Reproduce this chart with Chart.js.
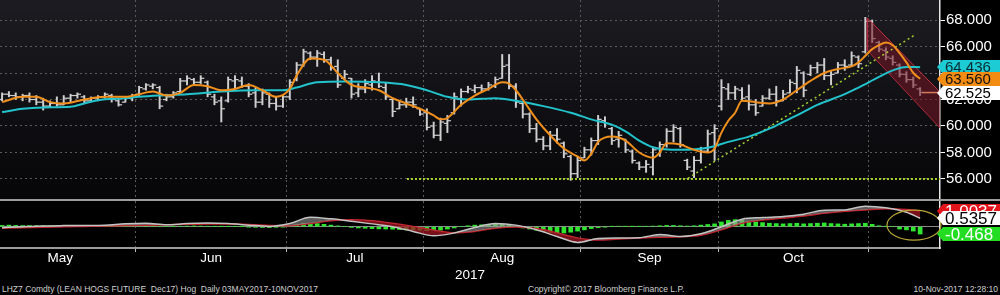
<!DOCTYPE html>
<html>
<head>
<meta charset="utf-8">
<script src="https://cdn.jsdelivr.net/npm/chart.js@4.4.0/dist/chart.umd.min.js"></script>
<style>
  html, body { margin:0; padding:0; background:#000; }
  body { width:1000px; height:295px; position:relative; overflow:hidden; font-family:'Liberation Sans', Arial, sans-serif; }
  #top { position:absolute; left:0; top:0; }
  #sep { position:absolute; left:0; top:199px; width:1000px; height:2px; background:#9c9c9c; }
  #bot { position:absolute; left:0; top:201px; }
  .foot { position:absolute; top:284px; font-size:8.5px; line-height:10px; color:#cfcfcf; white-space:pre; }
</style>
</head>
<body>
<canvas id="top" width="1000" height="199"></canvas>
<div id="sep"></div>
<canvas id="bot" width="1000" height="82"></canvas>
<div class="foot" style="left:2px">LHZ7 Comdty (LEAN HOGS FUTURE  Dec17) Hog  Daily 03MAY2017-10NOV2017</div>
<div class="foot" style="left:528px">Copyright© 2017 Bloomberg Finance L.P.</div>
<div class="foot" style="right:2px">10-Nov-2017 12:28:10</div>
<script>
// month grid (between trading days) and month label positions, in trading-day index
var monthNames = ['May', 'Jun', 'Jul', 'Aug', 'Sep', 'Oct'];
var monthStarts = [19.5, 41.5, 61.5, 84.5, 104.5, 126.5];
var monthMids = [8.5, 30.5, 51.5, 73, 94.5, 115.5];
var priceTicks = [56, 58, 60, 62, 64, 66, 68];

// daily OHLC, 03 May - 10 Nov 2017
var opens = [62.0,62.4,62.3,62.2,62.3,62.0,61.8,61.5,61.7,61.6,62.1,62.3,62.2,61.9,62.1,62.2,62.3,61.9,61.8,62.1,
  62.4,62.8,63.0,62.9,62.0,62.2,62.6,63.4,63.5,63.3,63.3,62.2,61.9,61.9,63.4,63.4,63.0,62.5,61.8,62.4,61.7,61.5,
  62.2,63.5,64.6,65.5,65.2,65.4,65.0,64.5,63.6,63.6,62.5,62.8,63.1,63.3,62.9,62.0,61.3,61.6,61.8,61.3,
  61.0,60.0,59.3,60.2,61.0,62.0,62.6,62.7,62.9,62.8,63.0,63.6,64.6,63.0,61.7,60.9,59.8,59.0,58.5,59.3,58.7,57.7,56.4,
  57.6,58.2,58.9,60.4,59.8,59.0,59.0,58.1,57.2,56.9,56.9,58.3,58.6,59.6,59.8,57.4,56.6,57.4,58.1,59.5,
  61.5,62.8,62.5,62.7,62.2,61.6,61.5,62.1,62.4,61.9,62.5,63.2,64.0,63.9,64.4,64.6,63.8,64.0,64.6,64.6,65.2,
  65.6,67.9,66.3,65.7,65.1,64.6,63.9,63.5,62.8];
var highs = [62.5,62.6,62.5,62.4,62.5,62.3,62.1,61.9,62.2,62.3,62.4,62.5,62.3,62.2,62.3,62.5,62.4,62.0,62.2,62.4,
  63.0,63.2,63.2,63.0,62.4,62.6,63.6,63.8,63.6,63.8,63.4,62.4,62.2,63.7,63.8,63.7,63.2,62.9,62.8,62.5,62.2,62.3,
  63.5,64.8,65.8,65.6,65.7,65.6,65.2,65.0,64.2,63.6,63.2,63.5,63.8,64.0,63.3,62.1,61.9,62.1,62.2,61.3,
  61.3,60.3,60.6,60.8,62.5,62.8,63.0,63.1,63.1,63.3,63.7,65.4,65.4,63.2,61.8,61.0,60.2,59.2,59.6,59.8,58.8,57.8,57.7,
  58.4,59.1,60.8,60.7,59.9,59.6,59.0,58.2,57.3,57.4,58.4,58.8,59.8,60.1,59.9,57.5,57.7,58.4,59.7,60.1,
  63.5,63.2,63.0,62.9,63.1,62.0,62.3,62.8,63.0,62.7,63.5,64.5,64.1,64.6,64.8,65.1,64.2,64.8,65.0,65.6,65.3,
  68.2,68.0,66.4,65.9,65.3,64.7,64.1,63.7,62.9];
var lows = [61.9,62.2,62.0,61.9,61.8,61.6,61.2,61.4,61.5,61.6,61.8,62.1,61.7,61.9,61.9,62.1,61.8,61.5,61.8,61.9,
  62.3,62.7,62.8,61.3,61.9,62.1,62.5,63.1,63.1,63.2,62.2,61.6,60.3,61.8,62.8,62.9,62.2,61.4,61.6,61.4,61.2,61.4,
  62.0,63.4,64.5,65.0,64.5,64.8,64.2,62.9,63.5,62.1,62.2,62.5,62.7,62.9,62.0,60.7,61.3,61.4,61.4,60.8,
  59.7,59.1,58.9,59.5,60.9,61.5,62.5,62.5,62.6,62.7,62.9,63.6,62.8,61.4,60.6,59.5,58.8,58.2,58.2,58.7,57.6,55.9,56.1,
  57.6,57.8,58.6,59.9,58.6,58.4,58.0,57.2,56.7,56.5,56.3,57.7,58.4,58.8,58.4,56.7,56.1,57.2,58.0,57.4,
  61.2,62.0,62.0,61.9,61.2,60.8,61.5,62.0,61.5,61.9,62.5,62.5,62.2,63.8,64.0,63.5,63.1,64.0,64.2,64.5,64.4,
  65.5,66.3,65.6,65.0,64.6,63.7,63.3,62.9,62.3];
var closes = [62.4,62.3,62.2,62.3,62.0,61.8,61.5,61.7,61.6,62.1,62.3,62.4,61.9,62.1,62.2,62.4,62.0,61.6,62.1,62.3,
  62.9,63.1,63.1,61.5,62.2,62.5,63.4,63.6,63.3,63.6,62.4,61.8,61.3,63.5,63.5,63.0,62.4,61.8,62.5,61.7,61.5,62.2,
  63.3,64.6,65.6,65.2,65.5,65.0,64.4,63.1,63.9,62.4,62.8,63.2,63.4,63.0,62.2,61.1,61.6,61.8,61.6,60.9,
  59.9,59.3,60.3,60.4,62.2,62.6,62.8,62.9,62.8,63.1,63.5,64.5,63.0,61.8,60.9,59.8,59.0,58.5,59.3,59.0,57.9,56.4,57.4,
  58.2,58.9,60.5,60.2,58.9,59.3,58.2,57.4,56.9,57.1,58.2,58.6,59.6,59.9,58.6,56.9,57.4,58.1,59.4,59.8,
  62.9,62.5,62.8,62.1,61.6,61.0,62.1,62.4,61.9,62.4,63.3,64.2,62.7,64.4,64.6,63.8,63.9,64.6,64.5,65.3,64.7,
  67.9,66.6,65.8,65.2,64.8,63.9,63.5,63.1,62.525];

// short (orange) and long (cyan) moving averages
var maShortIdx = [0,3,5,7,9,12,15,18,20,22,24,26,28,30,32,34,36,38,40,42,43,45,47,49,51,53,55,57,59,61,
  63,64,65,67,69,71,73,74,75,76,78,80,82,84,85,86,87,89,91,93,95,96,97,99,101,103,104,105,106,107,
  108,110,112,114,116,118,120,122,124,125,126,127,128,129,130,131,132,133,134];
var maShortVal = [61.8,62.2,62.2,61.8,61.7,62.0,62.2,62.2,62.4,62.6,62.3,62.5,63.1,63.0,62.7,62.8,63.1,62.7,62.2,62.8,
  63.8,65.1,65.0,64.0,63.1,62.9,62.7,62.1,61.7,61.3,60.8,60.5,60.6,61.6,62.3,62.8,63.3,63.2,62.7,62.0,
  60.5,59.3,58.3,57.7,57.4,57.9,58.8,59.2,58.9,58.0,57.6,58.0,58.7,58.6,58.2,58.0,58.3,59.5,60.4,61.0,
  61.9,61.8,61.7,62.0,62.7,63.4,64.0,64.3,64.5,64.8,65.3,65.8,66.1,66.3,66.1,65.5,64.8,64.0,63.56];
var maLongIdx = [0,3,6,10,12,14,18,20,23,27,32,37,41,43,46,50,55,59,62,65,68,72,75,79,83,86,89,91,93,95,
  99,103,106,109,112,114,116,119,123,125,128,130,132,134];
var maLongVal = [61.05,61.3,61.4,61.45,61.7,61.95,62.1,62.2,62.3,62.4,62.6,62.7,62.7,62.9,63.3,63.35,63.3,63.1,62.7,62.2,
  62.0,62.1,61.9,61.5,61.0,60.5,60.1,59.6,58.9,58.4,58.2,58.35,58.8,59.2,59.8,60.3,60.8,61.6,62.4,62.9,
  63.7,64.2,64.45,64.44];

// drawn lines: support at 56, rising trend line, falling channel
var supportLine = [[59.1, 56.0], [136.9, 56.0]];
var trendLine = [[100.1, 56.05], [133.3, 66.9]];
var channelTop = [[126.3, 68.15], [136.9, 62.55]];
var channelBottom = [[126.3, 65.7], [136.9, 59.85]];

var lastShort = 63.560, lastLong = 64.436, lastPrice = 62.525;

// MACD panel
var macdIdx = [0,3,6,9,12,15,18,21,24,27,30,33,36,39,42,45,48,51,54,57,60,63,66,69,72,75,78,81,84,87,
  90,93,96,99,102,105,108,111,114,117,120,123,126,129,132,134];
var macdVal = [-0.06,0.0,0.05,0.07,0.08,0.1,0.18,0.22,0.12,0.2,0.23,0.2,0.1,0.02,0.2,0.6,0.5,0.35,0.18,0.0,
  -0.3,-0.58,-0.4,-0.05,0.2,0.1,-0.2,-0.62,-1.0,-0.75,-0.72,-0.7,-0.5,-0.62,-0.45,0.0,0.48,0.58,0.65,0.8,
  1.05,1.07,1.3,1.2,0.92,0.5357];
var signalVal = [-0.1,-0.07,-0.03,0.0,0.02,0.04,0.07,0.1,0.12,0.15,0.17,0.17,0.14,0.08,0.06,0.2,0.38,0.44,0.38,0.22,
  0.02,-0.22,-0.38,-0.3,-0.1,-0.02,-0.12,-0.4,-0.72,-0.85,-0.78,-0.72,-0.68,-0.64,-0.55,-0.2,0.22,0.42,0.55,0.68,
  0.85,0.98,1.07,1.15,1.1,1.0037];
var histVal = [0.08,0.1,0.08,0.07,0.07,0.06,0.06,0.05,0.05,
  0.04,0.04,0.03,0.03,0.04,0.04,0.05,0.05,0.04,0.04,0.05,
  0.05,0.06,0.05,0.03,0.0,0.02,0.03,0.04,0.05,0.04,0.03,0.02,0.01,0.02,0.02,0.01,
  -0.02,-0.04,-0.05,-0.05,-0.04,-0.02,
  0.05,0.12,0.2,0.22,0.2,0.15,
  0.1,0.05,0.0,-0.05,-0.08,
  -0.1,-0.12,-0.14,-0.15,-0.16,-0.18,-0.2,-0.2,
  -0.22,-0.25,-0.25,-0.22,-0.15,-0.08,0.0,
  0.06,0.1,0.12,0.14,0.15,0.14,0.1,
  0.02,
  -0.08,-0.15,-0.22,-0.3,-0.36,-0.4,-0.4,-0.35,-0.28,
  -0.2,-0.12,-0.06,-0.02,
  0.02,0.03,0.02,0.01,0.02,0.03,0.04,
  0.06,0.08,0.08,0.06,
  0.04,0.06,
  0.1,0.14,0.18,
  0.3,0.4,0.45,0.42,
  0.35,0.3,0.26,0.22,
  0.2,0.18,0.2,0.22,0.18,0.2,0.22,0.24,0.2,0.18,0.16,0.18,0.2,
  0.22,0.15,0.06,0.02,0.0,
  -0.15,-0.2,-0.28,-0.468];
var lastMacd = 0.5357, lastSignal = 1.0037, lastHist = -0.468;
var circleAt = [133.1, 0.1];

var X_MIN = -0.3, X_MAX = 136.9;
var FONT = 'Liberation Sans';

function pts(idx, val) {
  return idx.map(function(x, k) { return {x: x, y: val[k]}; });
}
function pairs(list) {
  return list.map(function(p) { return {x: p[0], y: p[1]}; });
}

function drawTag(chart, value, text, bg, fg, h, size) {
  var ctx = chart.ctx;
  var y = Math.round(chart.scales.y.getPixelForValue(value));
  var x0 = chart.chartArea.right;
  ctx.save();
  ctx.fillStyle = bg;
  ctx.beginPath();
  ctx.moveTo(x0 - 3, y);
  ctx.lineTo(x0 + 3, y - h / 2);
  ctx.lineTo(chart.width, y - h / 2);
  ctx.lineTo(chart.width, y + h / 2);
  ctx.lineTo(x0 + 3, y + h / 2);
  ctx.closePath();
  ctx.fill();
  ctx.fillStyle = fg;
  ctx.font = size + 'px "' + FONT + '"';
  ctx.textBaseline = 'middle';
  ctx.textAlign = 'left';
  ctx.fillText(text, x0 + 5, y + 1);
  ctx.restore();
}

var barColor = '#cfcfcf';
var days = closes.map(function(c, i) { return i; });

// ---------- price panel ----------
var topChart = new Chart(document.getElementById('top'), {
  type: 'line',
  data: {
    datasets: [
      {
        type: 'bar', label: 'range', order: 10,
        data: days.map(function(i) { return {x: i, y: [lows[i], highs[i]]}; }),
        backgroundColor: barColor, borderWidth: 0, barThickness: 1.3, grouped: false
      },
      {
        label: 'open', order: 9, showLine: false,
        data: days.map(function(i) { return {x: i - 0.26, y: opens[i]}; }),
        pointStyle: 'line', pointRadius: 1.8, pointBorderColor: barColor, pointBorderWidth: 1.2
      },
      {
        label: 'close', order: 9, showLine: false,
        data: days.map(function(i) { return {x: i + 0.26, y: closes[i]}; }),
        pointStyle: 'line', pointRadius: 1.8, pointBorderColor: barColor, pointBorderWidth: 1.2
      },
      {
        label: 'channel top', order: 7, data: pairs(channelTop),
        borderColor: '#c23445', borderWidth: 1, pointRadius: 0,
        fill: '+1', backgroundColor: 'rgba(120,22,38,0.55)'
      },
      {
        label: 'channel bottom', order: 7, data: pairs(channelBottom),
        borderColor: '#c23445', borderWidth: 1, pointRadius: 0
      },
      {
        label: 'channel edge', order: 7, data: pairs([channelTop[0], channelBottom[0]]),
        borderColor: '#c23445', borderWidth: 1, pointRadius: 0
      },
      {
        label: 'support', order: 5, data: pairs(supportLine),
        borderColor: '#a6d12e', borderWidth: 2, borderDash: [2, 2], pointRadius: 0
      },
      {
        label: 'trend', order: 5, data: pairs(trendLine),
        borderColor: '#a6d12e', borderWidth: 1.5, borderDash: [2, 3], pointRadius: 0
      },
      {
        label: 'MA long', order: 3, data: pts(maLongIdx, maLongVal),
        borderColor: '#22c3cc', borderWidth: 2, pointRadius: 0, cubicInterpolationMode: 'monotone'
      },
      {
        label: 'MA short', order: 2, data: pts(maShortIdx, maShortVal),
        borderColor: '#f08f1c', borderWidth: 2, pointRadius: 0, cubicInterpolationMode: 'monotone'
      },
      {
        label: 'last', order: 1, data: [{x: 134.3, y: lastPrice}, {x: 136.6, y: lastPrice}],
        borderColor: '#d77a5c', borderWidth: 1.5, pointRadius: 0
      }
    ]
  },
  options: {
    responsive: false, animation: false, events: [],
    layout: {padding: 0, autoPadding: false},
    plugins: {legend: {display: false}, tooltip: {enabled: false}},
    scales: {
      x: {
        type: 'linear', min: X_MIN, max: X_MAX, offset: false,
        afterBuildTicks: function(s) { s.ticks = monthStarts.map(function(v) { return {value: v}; }); },
        afterFit: function(s) { s.height = 0; s.paddingLeft = 0; s.paddingRight = 0; },
        ticks: {display: false},
        grid: {color: '#5a5a5a', drawTicks: false, offset: false},
        border: {display: false, dash: [2, 3]}
      },
      y: {
        type: 'linear', position: 'right', min: 54.49, max: 69.51,
        afterBuildTicks: function(s) { s.ticks = priceTicks.map(function(v) { return {value: v}; }); },
        afterFit: function(s) { s.width = 60; s.paddingTop = 0; s.paddingBottom = 0; },
        ticks: {color: '#ffffff', font: {family: FONT, size: 15}, padding: 1,
          callback: function(v) { return Number(v).toFixed(3); }},
        grid: {color: '#5a5a5a', tickColor: '#ffffff', tickLength: 5, tickWidth: 1, tickBorderDash: []},
        border: {color: '#e6e6e6', width: 1.5, dash: [2, 3]}
      }
    }
  },
  plugins: [{
    id: 'panelBg',
    beforeDraw: function(chart) {
      var ctx = chart.ctx, a = chart.chartArea;
      ctx.save();
      ctx.fillStyle = '#000';
      ctx.fillRect(0, 0, chart.width, chart.height);
      var g = ctx.createLinearGradient(0, a.top, 0, a.bottom);
      g.addColorStop(0, '#1c1c22');
      g.addColorStop(1, '#060608');
      ctx.fillStyle = g;
      ctx.fillRect(a.left, a.top, a.right - a.left, a.bottom - a.top);
      ctx.restore();
    },
    afterDraw: function(chart) {
      drawTag(chart, lastLong, lastLong.toFixed(3), '#1ccbd3', '#0b2b33', 14, 15);
      drawTag(chart, lastShort, lastShort.toFixed(3), '#f28c12', '#111111', 14, 15);
      drawTag(chart, lastPrice, lastPrice.toFixed(3), '#ffffff', '#000000', 14, 15);
    }
  }]
});

// ---------- MACD panel ----------
var axisTicks = monthStarts.map(function(v) { return {value: v, label: ''}; })
  .concat(monthMids.map(function(v, k) { return {value: v, label: monthNames[k]}; }));

var botChart = new Chart(document.getElementById('bot'), {
  type: 'line',
  data: {
    datasets: [
      {
        type: 'bar', label: 'hist', order: 5,
        data: histVal.map(function(v, i) { return {x: i, y: v}; }),
        backgroundColor: '#2ee62e', borderWidth: 0, barThickness: 4, grouped: false
      },
      {
        label: 'MACD', order: 2, data: pts(macdIdx, macdVal),
        borderColor: '#c4c4c4', borderWidth: 1.5, pointRadius: 0, cubicInterpolationMode: 'monotone',
        fill: {target: '+1', above: 'rgba(150,150,150,0.6)', below: 'rgba(160,22,34,0.75)'}
      },
      {
        label: 'signal', order: 3, data: pts(macdIdx, signalVal),
        borderColor: '#c8202a', borderWidth: 1.5, pointRadius: 0, cubicInterpolationMode: 'monotone'
      }
    ]
  },
  options: {
    responsive: false, animation: false, events: [],
    layout: {padding: 0, autoPadding: false},
    plugins: {legend: {display: false}, tooltip: {enabled: false}},
    scales: {
      x: {
        type: 'linear', min: X_MIN, max: X_MAX, offset: false,
        afterBuildTicks: function(s) { s.ticks = axisTicks.map(function(t) { return {value: t.value}; }); },
        afterFit: function(s) { s.height = 35; s.paddingLeft = 0; s.paddingRight = 0; },
        ticks: {
          color: '#ffffff', font: {family: FONT, size: 13.5}, padding: -2, maxRotation: 0, autoSkip: false,
          callback: function(v, k) { return axisTicks[k].label; }
        },
        grid: {
          offset: false, tickLength: 4, tickBorderDash: [],
          color: function(c) { return c.tick && c.tick.label ? 'rgba(0,0,0,0)' : '#5a5a5a'; },
          tickColor: function(c) { return c.tick && c.tick.label ? 'rgba(0,0,0,0)' : '#bdbdbd'; }
        },
        border: {display: true, color: '#9c9c9c', width: 2, dash: [2, 3]},
        title: {display: true, text: '2017', color: '#ffffff', font: {family: FONT, size: 13.5},
          padding: {top: 0, bottom: 0}}
      },
      y: {
        type: 'linear', position: 'right', min: -1.357, max: 1.637,
        afterBuildTicks: function(s) { s.ticks = [{value: 0}]; },
        afterFit: function(s) { s.width = 60; s.paddingTop = 0; s.paddingBottom = 0; },
        ticks: {display: false},
        grid: {color: '#8a8a8a', drawTicks: false},
        border: {color: '#e6e6e6', width: 1.5}
      }
    }
  },
  plugins: [{
    id: 'macdExtras',
    afterDatasetsDraw: function(chart) {
      var ctx = chart.ctx;
      var cx = chart.scales.x.getPixelForValue(circleAt[0]);
      var cy = chart.scales.y.getPixelForValue(circleAt[1]);
      ctx.save();
      ctx.strokeStyle = '#b9a535';
      ctx.lineWidth = 1.2;
      ctx.beginPath();
      ctx.ellipse(cx, cy, 27, 15, 0, 0, Math.PI * 2);
      ctx.stroke();
      ctx.restore();
    },
    afterDraw: function(chart) {
      drawTag(chart, lastSignal, lastSignal.toFixed(4), '#e3141c', '#ffffff', 14, 17);
      drawTag(chart, lastMacd, lastMacd.toFixed(4), '#ffffff', '#000000', 14, 17);
      drawTag(chart, lastHist, lastHist.toFixed(3), '#22dd22', '#ffffff', 14, 17);
    }
  }]
});
</script>
</body>
</html>
